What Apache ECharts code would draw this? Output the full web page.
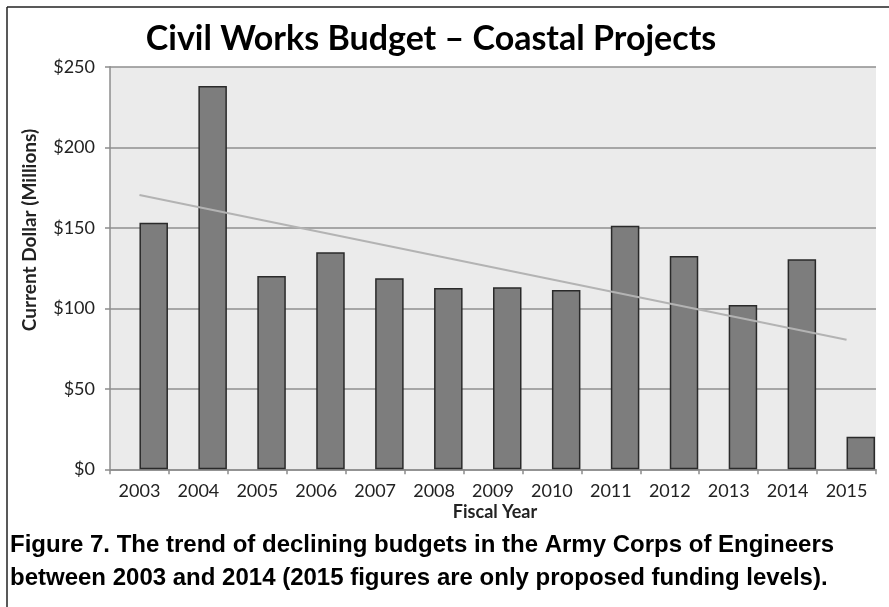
<!DOCTYPE html>
<html>
<head>
<meta charset="utf-8">
<script src="https://cdn.jsdelivr.net/npm/echarts@6/dist/echarts.min.js"></script>
<style>html,body{margin:0;padding:0;background:#fff}#c{width:889px;height:607px}</style>
</head>
<body>
<div id="c"></div>
<script>
const years = ['2003','2004','2005','2006','2007','2008','2009','2010','2011','2012','2013','2014','2015'];
const budget = [153.2, 238.0, 120.1, 134.8, 118.6, 112.6, 113.1, 111.4, 151.3, 132.5, 102.0, 130.4, 20.2];
const trendEnds = [170.4, 80.5]; // trend line value at 2003 and at 2015
const yTicks = [0, 50, 100, 150, 200, 250];

const emptySeries = years.map(() => '-');
const trendData = years.map((y, i) => i === 0 ? trendEnds[0] : (i === years.length - 1 ? trendEnds[1] : '-'));

const chart = echarts.init(document.getElementById('c'), null, {renderer: 'canvas'});
const font = 'Lato, "Open Sans", sans-serif';
chart.setOption({
  animation: false,
  backgroundColor: '#ffffff',
  grid: {left: 110, right: 13, top: 66.8, bottom: 137.7, show: true, backgroundColor: '#ebebeb', borderWidth: 0},
  xAxis: {
    type: 'category',
    data: years,
    axisLine: {show: true, lineStyle: {color: '#8c8c8c', width: 1.5}},
    axisTick: {show: true, alignWithLabel: false, length: 5, lineStyle: {color: '#8c8c8c', width: 1.5}},
    axisLabel: {color: '#222', fontFamily: font, fontSize: 18, margin: 13, interval: 0}
  },
  yAxis: {
    type: 'value',
    min: yTicks[0], max: yTicks[yTicks.length - 1], interval: 50,
    axisLine: {show: true, lineStyle: {color: '#8c8c8c', width: 1.5}},
    axisTick: {show: true, length: 5, lineStyle: {color: '#8c8c8c', width: 1.5}},
    splitLine: {show: true, lineStyle: {color: '#8f8f8f', width: 1.5}},
    axisLabel: {color: '#222', fontFamily: font, fontSize: 18, margin: 15, formatter: v => '$' + v}
  },
  series: [
    {type: 'bar', data: emptySeries, barWidth: 28.5, barGap: '0%', silent: true},
    {type: 'bar', data: budget, barWidth: 28.5, barGap: '0%',
      itemStyle: {color: '#7d7d7d', borderColor: '#2a2a2a', borderWidth: 1.5}},
    {type: 'line', data: trendData, connectNulls: true, symbol: 'none',
      lineStyle: {color: '#b3b3b3', width: 2}, z: 5}
  ],
  graphic: [
    {type: 'line', shape: {x1: 7, y1: 7, x2: 889, y2: 7}, style: {stroke: '#222', lineWidth: 1.5}},
    {type: 'line', shape: {x1: 7, y1: 7, x2: 7, y2: 607}, style: {stroke: '#222', lineWidth: 1.5}},
    {type: 'text', x: 431, y: 39, style: {text: 'Civil Works Budget \u2013 Coastal Projects', fill: '#000',
      font: 'bold 34px ' + font, textAlign: 'center', textVerticalAlign: 'middle'}},
    {type: 'text', x: 30, y: 230, rotation: Math.PI / 2, style: {text: 'Current Dollar (Millions)', fill: '#222',
      font: 'bold 19px ' + font, textAlign: 'center', textVerticalAlign: 'middle'}},
    {type: 'text', x: 495, y: 512, style: {text: 'Fiscal Year', fill: '#222',
      font: 'bold 18px ' + font, textAlign: 'center', textVerticalAlign: 'middle'}},
    {type: 'text', x: 10, y: 545, style: {text: 'Figure 7. The trend of declining budgets in the Army Corps of Engineers', fill: '#000',
      font: 'bold 24px "Liberation Sans", Arial, sans-serif', textAlign: 'left', textVerticalAlign: 'middle'}},
    {type: 'text', x: 10, y: 578, style: {text: 'between 2003 and 2014 (2015 figures are only proposed funding levels).', fill: '#000',
      font: 'bold 24px "Liberation Sans", Arial, sans-serif', textAlign: 'left', textVerticalAlign: 'middle'}}
  ]
});
</script>
</body>
</html>
